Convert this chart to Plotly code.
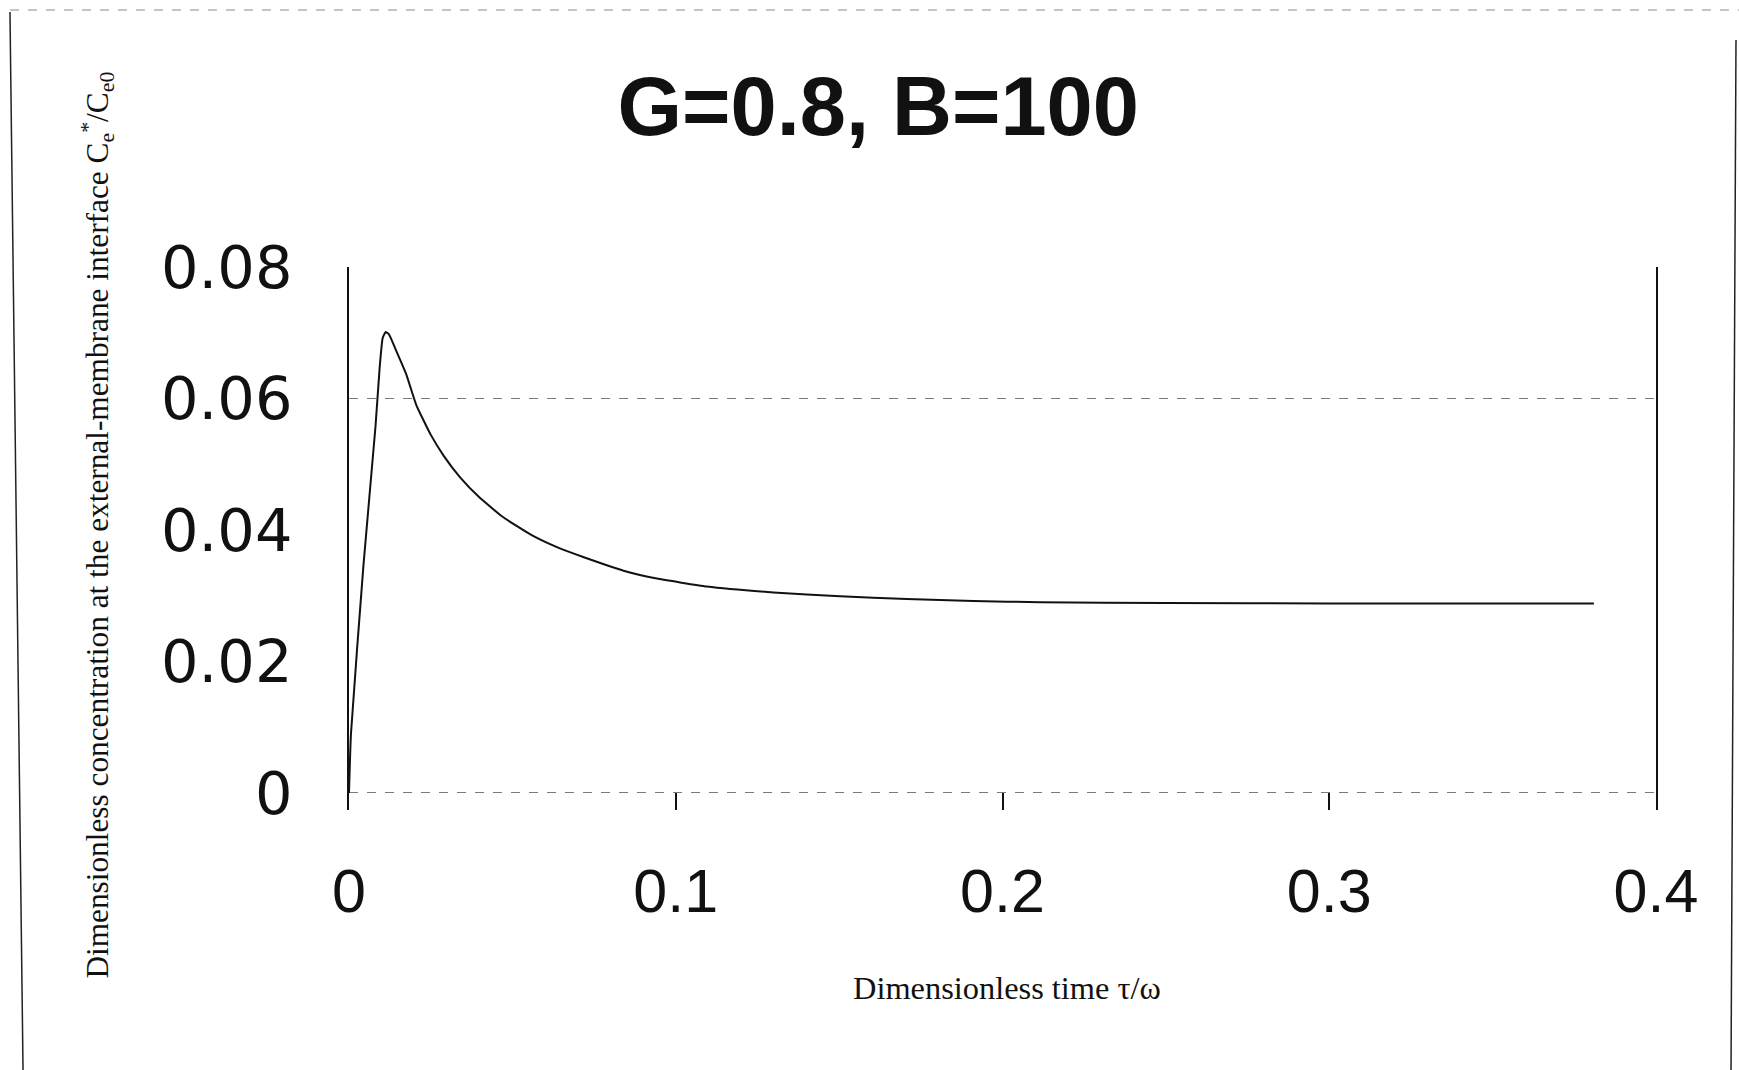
import plotly.graph_objects as go

# Data (dimensionless time vs dimensionless concentration)
tau = [0.0, 0.0006, 0.0044, 0.0081, 0.0094, 0.0103, 0.0112, 0.0122, 0.0145,
       0.0175, 0.0206, 0.0250, 0.0291, 0.0340, 0.0398, 0.0470, 0.0559, 0.0640,
       0.0721, 0.0840, 0.0942, 0.1095, 0.1299, 0.1503, 0.1707, 0.1911, 0.2115,
       0.2500, 0.3000, 0.3500, 0.3810]
conc = [0.0, 0.0090, 0.0345, 0.0557, 0.0648, 0.0692, 0.0701, 0.0698, 0.0672,
        0.0637, 0.0590, 0.0545, 0.0512, 0.0480, 0.0450, 0.0420, 0.0392, 0.0373,
        0.0358, 0.0338, 0.0326, 0.0314, 0.0305, 0.0299, 0.0295, 0.0292, 0.0290,
        0.0289, 0.0288, 0.0288, 0.0288]

x_ticks = [0, 0.1, 0.2, 0.3, 0.4]
x_tick_text = ["0", "0.1", "0.2", "0.3", "0.4"]
y_ticks = [0, 0.02, 0.04, 0.06, 0.08]
y_tick_text = ["0", "0.02", "0.04", "0.06", "0.08"]
y_grid = [0, 0.06, 0.08]

title_text = "G=0.8, B=100"
x_title = "Dimensionless time τ/ω"
y_title = ("Dimensionless concentration at the external-membrane interface "
           "C<sub>e</sub><sup>*</sup>/C<sub>e0</sub>")

y_range = [-0.0026, 0.08]

fig = go.Figure()
fig.add_trace(go.Scatter(x=tau, y=conc, mode="lines",
                         line=dict(color="#111111", width=2, shape="spline", smoothing=0.4),
                         showlegend=False, hoverinfo="skip"))
# invisible trace that carries the sparse gridline axis
fig.add_trace(go.Scatter(x=tau, y=conc, mode="lines", yaxis="y2",
                         line=dict(width=0), opacity=0,
                         showlegend=False, hoverinfo="skip"))

x_tick_font = dict(family="Liberation Sans, Arial, sans-serif", size=61, color="#111111")
y_tick_font = dict(family="DejaVu Sans, Arial, sans-serif", size=59, color="#111111")
serif = "Liberation Serif, Times New Roman, serif"

fig.update_layout(
    width=1739, height=1070, autosize=False,
    paper_bgcolor="white", plot_bgcolor="white",
    margin=dict(l=349, r=83, t=267, b=260),
    title=dict(text="<b>" + title_text + "</b>", x=0.505, xanchor="center",
               y=0.901, yanchor="middle",
               font=dict(family="Liberation Sans, Arial, sans-serif", size=83, color="#111111")),
    xaxis=dict(range=[0, 0.4], tickvals=x_ticks, ticktext=x_tick_text,
               showgrid=False, zeroline=False, showline=False,
               ticks="inside", ticklen=17, tickwidth=1.5, tickcolor="#111111",
               tickfont=x_tick_font, ticklabelstandoff=40),
    yaxis=dict(range=y_range, tickvals=y_ticks, ticktext=y_tick_text,
               showgrid=False, zeroline=False,
               showline=True, mirror=True, linecolor="#111111", linewidth=1.5,
               ticks="", tickfont=y_tick_font, ticklabelstandoff=43),
    yaxis2=dict(range=y_range, overlaying="y", side="left", tickvals=y_grid,
                showticklabels=False, showgrid=True, gridcolor="#7a7a7a",
                griddash="dash", gridwidth=1, zeroline=False, showline=False,
                ticks=""),
    annotations=[
        dict(text=y_title, textangle=-90, xref="paper", yref="paper",
             x=-0.1923, y=0.525, xanchor="center", yanchor="middle",
             showarrow=False, font=dict(family=serif, size=31.3, color="#111111")),
        dict(text=x_title, xref="paper", yref="paper",
             x=0.5034, y=-0.328, xanchor="center", yanchor="middle",
             showarrow=False, font=dict(family=serif, size=32.4, color="#111111")),
    ],
    shapes=[
        dict(type="line", xref="paper", yref="paper",
             x0=-0.2594, y0=1.4696, x1=-0.2494, y1=-0.4788,
             line=dict(color="#222222", width=1.5)),
        dict(type="line", xref="paper", yref="paper",
             x0=1.0612, y0=1.418, x1=1.0574, y1=-0.4788,
             line=dict(color="#222222", width=1.5)),
        dict(type="line", xref="paper", yref="paper",
             x0=-0.2594, y0=1.4733, x1=1.0635, y1=1.4733,
             line=dict(color="#8a8a8a", width=1, dash="dash")),
    ],
)

fig.write_html("out.html")
